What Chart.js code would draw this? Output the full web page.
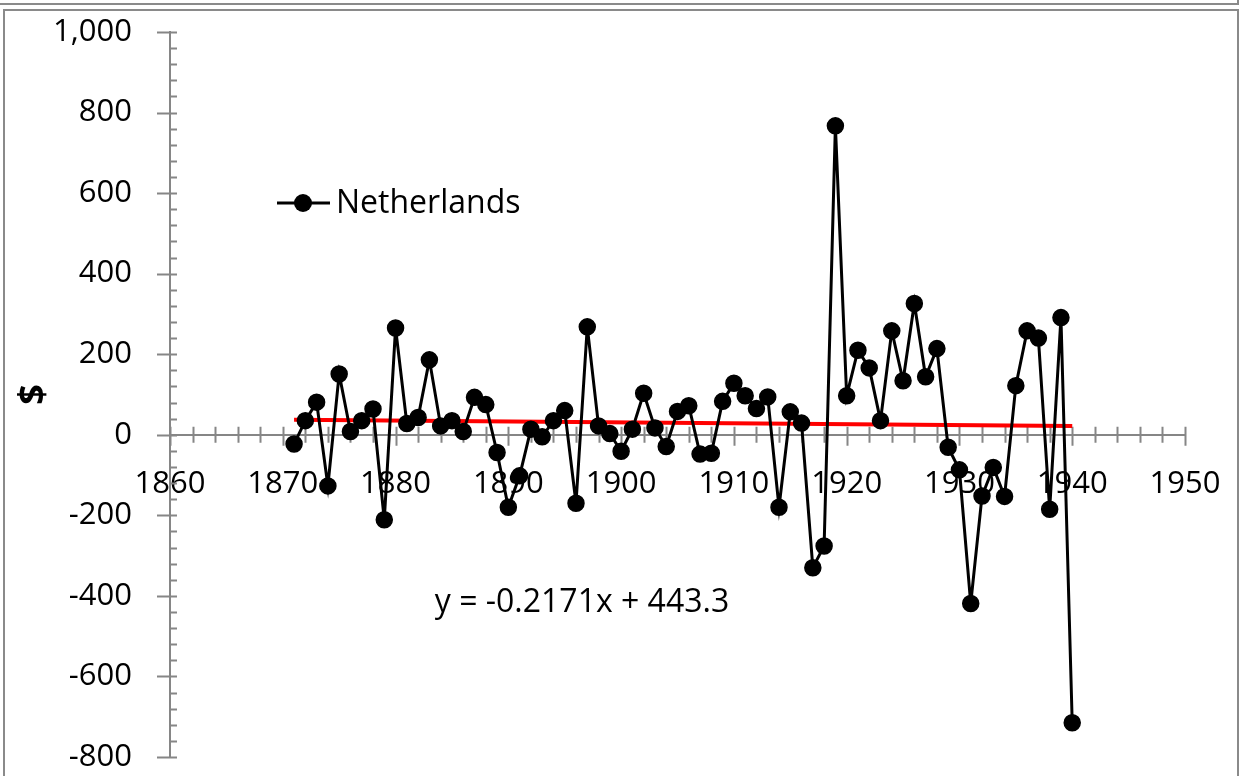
<!DOCTYPE html>
<html>
<head>
<meta charset="utf-8">
<title>Netherlands</title>
<script src="https://cdn.jsdelivr.net/npm/chart.js@4.4.1/dist/chart.umd.min.js"></script>
<style>
    html, body { margin: 0; padding: 0; background: #fff; }
    body { width: 1240px; height: 776px; position: relative; overflow: hidden; }
    #chart { position: absolute; left: 0; top: 0; }
    /* 위쪽 다른 차트 박스의 끝자락 + 본 차트 테두리 */
    .box-above { position: absolute; left: -10px; top: -10px; width: 1249px; height: 15px;
                 border: 2px solid #8a8a8a; box-sizing: border-box; }
    .box-main  { position: absolute; left: 3px; top: 9px; width: 1236px; height: 800px;
                 border: 2px solid #8a8a8a; box-sizing: border-box; }
</style>
</head>
<body>
<canvas id="chart" width="1240" height="776"></canvas>
<div class="box-above"></div>
<div class="box-main"></div>

<script>
// ═══ 데이터 ═══
const years = [
    1871, 1872, 1873, 1874, 1875, 1876, 1877, 1878, 1879, 1880,
    1881, 1882, 1883, 1884, 1885, 1886, 1887, 1888, 1889, 1890,
    1891, 1892, 1893, 1894, 1895, 1896, 1897, 1898, 1899, 1900,
    1901, 1902, 1903, 1904, 1905, 1906, 1907, 1908, 1909, 1910,
    1911, 1912, 1913, 1914, 1915, 1916, 1917, 1918, 1919, 1920,
    1921, 1922, 1923, 1924, 1925, 1926, 1927, 1928, 1929, 1930,
    1931, 1932, 1933, 1934, 1935, 1936, 1937, 1938, 1939, 1940
];
const netherlands = [
     -23,   35,   81, -127,  151,    8,   35,   64, -211,  265,
      28,   43,  186,   22,   35,    8,   93,   75,  -44, -180,
    -102,   14,   -5,   35,   60, -170,  268,   22,    3,  -41,
      14,  103,   17,  -29,   58,   72,  -48,  -46,   83,  128,
      97,   65,   94, -180,   57,   29, -330, -276,  767,   97,
     210,  166,   35,  258,  134,  326,  144,  214,  -31,  -87,
    -419, -152,  -81, -153,  122,  258,  240, -185,  291, -715
];
// 추세선 (y = -0.2171x + 443.3) 양 끝
const trendYears  = [1871, 1940];
const trendValues = [37.1, 22.1];

const xRange = [1860, 1950];
const yRange = [-800, 1000];
const equationText = 'y = -0.2171x + 443.3';

const FONT = '"Open Sans", Lato, sans-serif';
const AXIS_GRAY = '#868686';

Chart.defaults.font.family = FONT;
Chart.defaults.font.size   = 31;
Chart.defaults.color       = '#000';

// ═══ 눈금 (주/보조, 축을 가로지르는 엑셀식) ═══
const axisTicks = {
    id: 'axisTicks',
    beforeDatasetsDraw(chart) {
        const { ctx, scales: { x, y } } = chart;
        const axisY = y.getPixelForValue(0);
        const axisX = x.left;
        ctx.save();
        ctx.strokeStyle = AXIS_GRAY;
        ctx.lineWidth = 2;
        ctx.beginPath();
        for (let v = xRange[0]; v <= xRange[1]; v += 2) {
            const px = Math.round(x.getPixelForValue(v)) + 0.5;
            const major = v % 10 === 0;
            ctx.moveTo(px, axisY - 8);
            ctx.lineTo(px, axisY + (major ? 11 : 8));
        }
        for (let v = yRange[0]; v <= yRange[1]; v += 40) {
            const py = Math.round(y.getPixelForValue(v)) + 0.5;
            const major = v % 200 === 0;
            ctx.moveTo(axisX - (major ? 13 : 0), py);
            ctx.lineTo(axisX + 7, py);
        }
        ctx.stroke();
        ctx.restore();
    }
};

// ═══ 범례 + 추세식 ═══
const annotations = {
    id: 'annotations',
    afterDraw(chart) {
        const { ctx } = chart;
        const ds = chart.data.datasets[0];
        ctx.save();
        // 범례
        ctx.strokeStyle = '#000';
        ctx.lineWidth = 3;
        ctx.beginPath();
        ctx.moveTo(277, 203);
        ctx.lineTo(330, 203);
        ctx.stroke();
        ctx.fillStyle = '#000';
        ctx.beginPath();
        ctx.arc(303, 203, 9, 0, Math.PI * 2);
        ctx.fill();
        ctx.font = '32px ' + FONT;
        ctx.textBaseline = 'middle';
        ctx.textAlign = 'left';
        ctx.fillText(ds.label, 336, 204);
        // 추세식
        ctx.textAlign = 'center';
        ctx.font = '32px ' + FONT;
        ctx.fillText(equationText, 582, 603);
        ctx.restore();
    }
};

new Chart(document.getElementById('chart'), {
    type: 'scatter',
    data: {
        datasets: [
            {
                label: 'Netherlands',
                data: years.map((yr, i) => ({ x: yr, y: netherlands[i] })),
                showLine: true,
                borderColor: '#000',
                borderWidth: 3,
                pointRadius: 8,
                pointBackgroundColor: '#000',
                pointBorderColor: '#000',
                pointBorderWidth: 1.5,
                order: 0
            },
            {
                label: 'Linear (Netherlands)',
                data: trendYears.map((yr, i) => ({ x: yr, y: trendValues[i] })),
                showLine: true,
                borderColor: '#ff0000',
                borderWidth: 4,
                pointRadius: 0,
                order: 1
            }
        ]
    },
    options: {
        responsive: false,
        animation: false,
        devicePixelRatio: 1,
        layout: { padding: { left: 0, top: 32, right: 55, bottom: 19 } },
        plugins: { legend: { display: false }, tooltip: { enabled: false } },
        scales: {
            x: {
                type: 'linear',
                position: { y: 0 },
                min: xRange[0],
                max: xRange[1],
                ticks: { stepSize: 10, padding: 31, maxRotation: 0, callback: v => String(v) },
                grid: { display: false, drawTicks: false },
                border: { color: AXIS_GRAY, width: 2 },
                afterFit(scale) { scale.height = 0; scale.paddingLeft = 0; scale.paddingRight = 0; }
            },
            y: {
                min: yRange[0],
                max: yRange[1],
                ticks: { stepSize: 200, padding: 38 },
                grid: { display: false, drawTicks: false },
                border: { color: AXIS_GRAY, width: 2 },
                title: { display: true, text: '$', padding: { top: 12, bottom: 0 }, font: { size: 36, weight: 'bold' } },
                afterFit(scale) { scale.width = 170; scale.paddingTop = 0; scale.paddingBottom = 0; }
            }
        }
    },
    plugins: [axisTicks, annotations]
});
</script>
</body>
</html>
